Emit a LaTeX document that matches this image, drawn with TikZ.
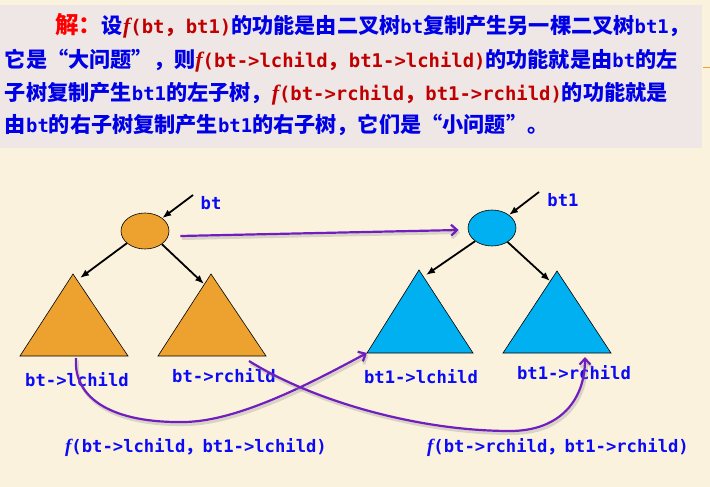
\documentclass[tikz,border=0pt]{standalone}
\usepackage{fontspec}
\usetikzlibrary{shapes.geometric,arrows.meta}
\newfontfamily\cjkfont{Noto Sans CJK SC}
\newfontfamily\monofont{DejaVu Sans Mono}
\newfontfamily\serfont{Liberation Serif}
\definecolor{bgc}{RGB}{251,242,222}
\definecolor{boxc}{RGB}{238,231,230}
\definecolor{tblue}{RGB}{0,0,230}
\definecolor{lblue}{RGB}{10,10,245}
\definecolor{tred}{RGB}{192,0,0}
\definecolor{orng}{RGB}{237,162,48}
\definecolor{cyn}{RGB}{0,176,240}
\definecolor{purp}{RGB}{112,30,190}
\newcommand\zh[1]{{\cjkfont\bfseries\fontsize{21.15}{22}\selectfont #1}}
\newcommand\mn[1]{{\monofont\bfseries\fontsize{18.9}{22}\selectfont #1}}
\newcommand\ffit{{\serfont\bfseries\itshape\fontsize{22}{22}\selectfont f}}
\newcommand\lmn[1]{{\monofont\bfseries\fontsize{17.2}{20}\selectfont #1}}
\newcommand\lzh[1]{{\cjkfont\bfseries\fontsize{17.2}{20}\selectfont #1}}
\newcommand\lffit{{\serfont\bfseries\itshape\fontsize{19}{20}\selectfont f}}
\tikzset{
  hdr/.style={anchor=base west,inner sep=0pt,outer sep=0pt},
  lbl/.style={inner sep=0pt,text=lblue},
  root/.style={ellipse,draw=black,line width=0.6pt,minimum width=48pt,minimum height=36pt,inner sep=0pt},
  tri/.style={draw=black,line width=0.6pt,line join=miter},
  ptr/.style={draw=black,line width=1.8pt,-{Latex[length=9pt,width=7pt]}},
  parr/.style={draw=purp,line width=2.2pt,-{Straight Barb[length=6pt,width=11pt]},
    preaction={draw=black!45,opacity=0.3,line width=3pt,transform canvas={xshift=1.5pt,yshift=-2.5pt}}}
}
\begin{document}
\begin{tikzpicture}[x=1pt,y=-1pt]
\useasboundingbox (0,0) rectangle (710,487);
\fill[bgc] (0,0) rectangle (710,487);
\fill[boxc] (0,5) rectangle (702,148);
\draw[orng,line width=1pt] (703,68) -- (710,68);
% header text
\node[hdr] (h1) at (55,34) {\color{red}{\cjkfont\bfseries\fontsize{23.5}{24}\selectfont 解：}\color{tblue}\zh{设}\color{tred}\ffit\mn{(bt}\zh{，}\mn{bt1)}\color{tblue}\zh{的功能是由二叉树}\mn{bt}\zh{复制产生另一棵二叉树}\mn{bt1}\zh{，}};
\node[hdr] (h2) at (5,67) {\color{tblue}\zh{它是“大问题”，则}\color{tred}\ffit\mn{(bt->lchild}\zh{，}\mn{bt1->lchild)}\color{tblue}\zh{的功能就是由}\mn{bt}\zh{的左}};
\node[hdr] (h3) at (5,100) {\color{tblue}\zh{子树复制产生}\mn{bt1}\zh{的左子树，}\color{tred}\ffit\mn{(bt->rchild}\zh{，}\mn{bt1->rchild)}\color{tblue}\zh{的功能就是}};
\node[hdr] (h4) at (5,132) {\color{tblue}\zh{由}\mn{bt}\zh{的右子树复制产生}\mn{bt1}\zh{的右子树，它们是“小问题”。}};
% left tree
\node[root,fill=orng] (rootL) at (145,231) {};
\coordinate (pL) at (193,195);
\node[lbl] (btL) at (211,203) {\lmn{bt}};
\draw[ptr] (pL) -- (rootL);
\coordinate (LLa) at (73,274); \coordinate (LLb) at (20,356); \coordinate (LLc) at (128,356);
\coordinate (LRa) at (211,274); \coordinate (LRb) at (158,356); \coordinate (LRc) at (266,356);
\fill[orng] (LLa) -- (LLb) -- (LLc) -- cycle;
\draw[tri] (LLa) -- (LLb) -- (LLc) -- cycle;
\fill[orng] (LRa) -- (LRb) -- (LRc) -- cycle;
\draw[tri] (LRa) -- (LRb) -- (LRc) -- cycle;
\coordinate (eLL) at (80,278); \coordinate (eLR) at (204,284);
\draw[ptr] (rootL.214) -- (eLL);
\draw[ptr] (rootL.322) -- (eLR);
\node[lbl] (tLL) at (77,380) {\lmn{bt->lchild}};
\node[lbl] (tLR) at (224,376) {\lmn{bt->rchild}};
% right tree
\node[root,fill=cyn] (rootR) at (492,228) {};
\coordinate (pR) at (539,192);
\node[lbl] (btR) at (563,200) {\lmn{bt1}};
\draw[ptr] (pR) -- (rootR);
\coordinate (RLa) at (419,270); \coordinate (RLb) at (367,353); \coordinate (RLc) at (473,353);
\coordinate (RRa) at (557,271); \coordinate (RRb) at (503,353); \coordinate (RRc) at (611,353);
\fill[cyn] (RLa) -- (RLb) -- (RLc) -- cycle;
\draw[tri] (RLa) -- (RLb) -- (RLc) -- cycle;
\fill[cyn] (RRa) -- (RRb) -- (RRc) -- cycle;
\draw[tri] (RRa) -- (RRb) -- (RRc) -- cycle;
\coordinate (eRL) at (426,275); \coordinate (eRR) at (550,281);
\draw[ptr] (rootR.218) -- (eRL);
\draw[ptr] (rootR.318) -- (eRR);
\node[lbl] (tRL) at (421,377) {\lmn{bt1->lchild}};
\node[lbl] (tRR) at (574,373) {\lmn{bt1->rchild}};
% purple connectors
\draw[parr] ([xshift=11pt,yshift=-5pt]rootL.east) -- ([xshift=-9pt,yshift=-2pt]rootR.west);
\coordinate (sA) at (76,358);
\coordinate (sB) at (249,361);
\coordinate (tB) at (585,357);
\draw[parr] (sA) .. controls (73,400) and (115,423) .. (183,422) .. controls (240,422) and (320,378) .. (RLb);
\draw[parr] (sB) .. controls (315,402) and (420,431) .. (510,431) .. controls (560,431) and (585,400) .. (tB);
% bottom labels
\node[lbl] (fL) at (196,448) {\lffit\lmn{(bt->lchild}\lzh{，}\lmn{bt1->lchild)}};
\node[lbl] (fR) at (558,448) {\lffit\lmn{(bt->rchild}\lzh{，}\lmn{bt1->rchild)}};
\end{tikzpicture}
\end{document}
